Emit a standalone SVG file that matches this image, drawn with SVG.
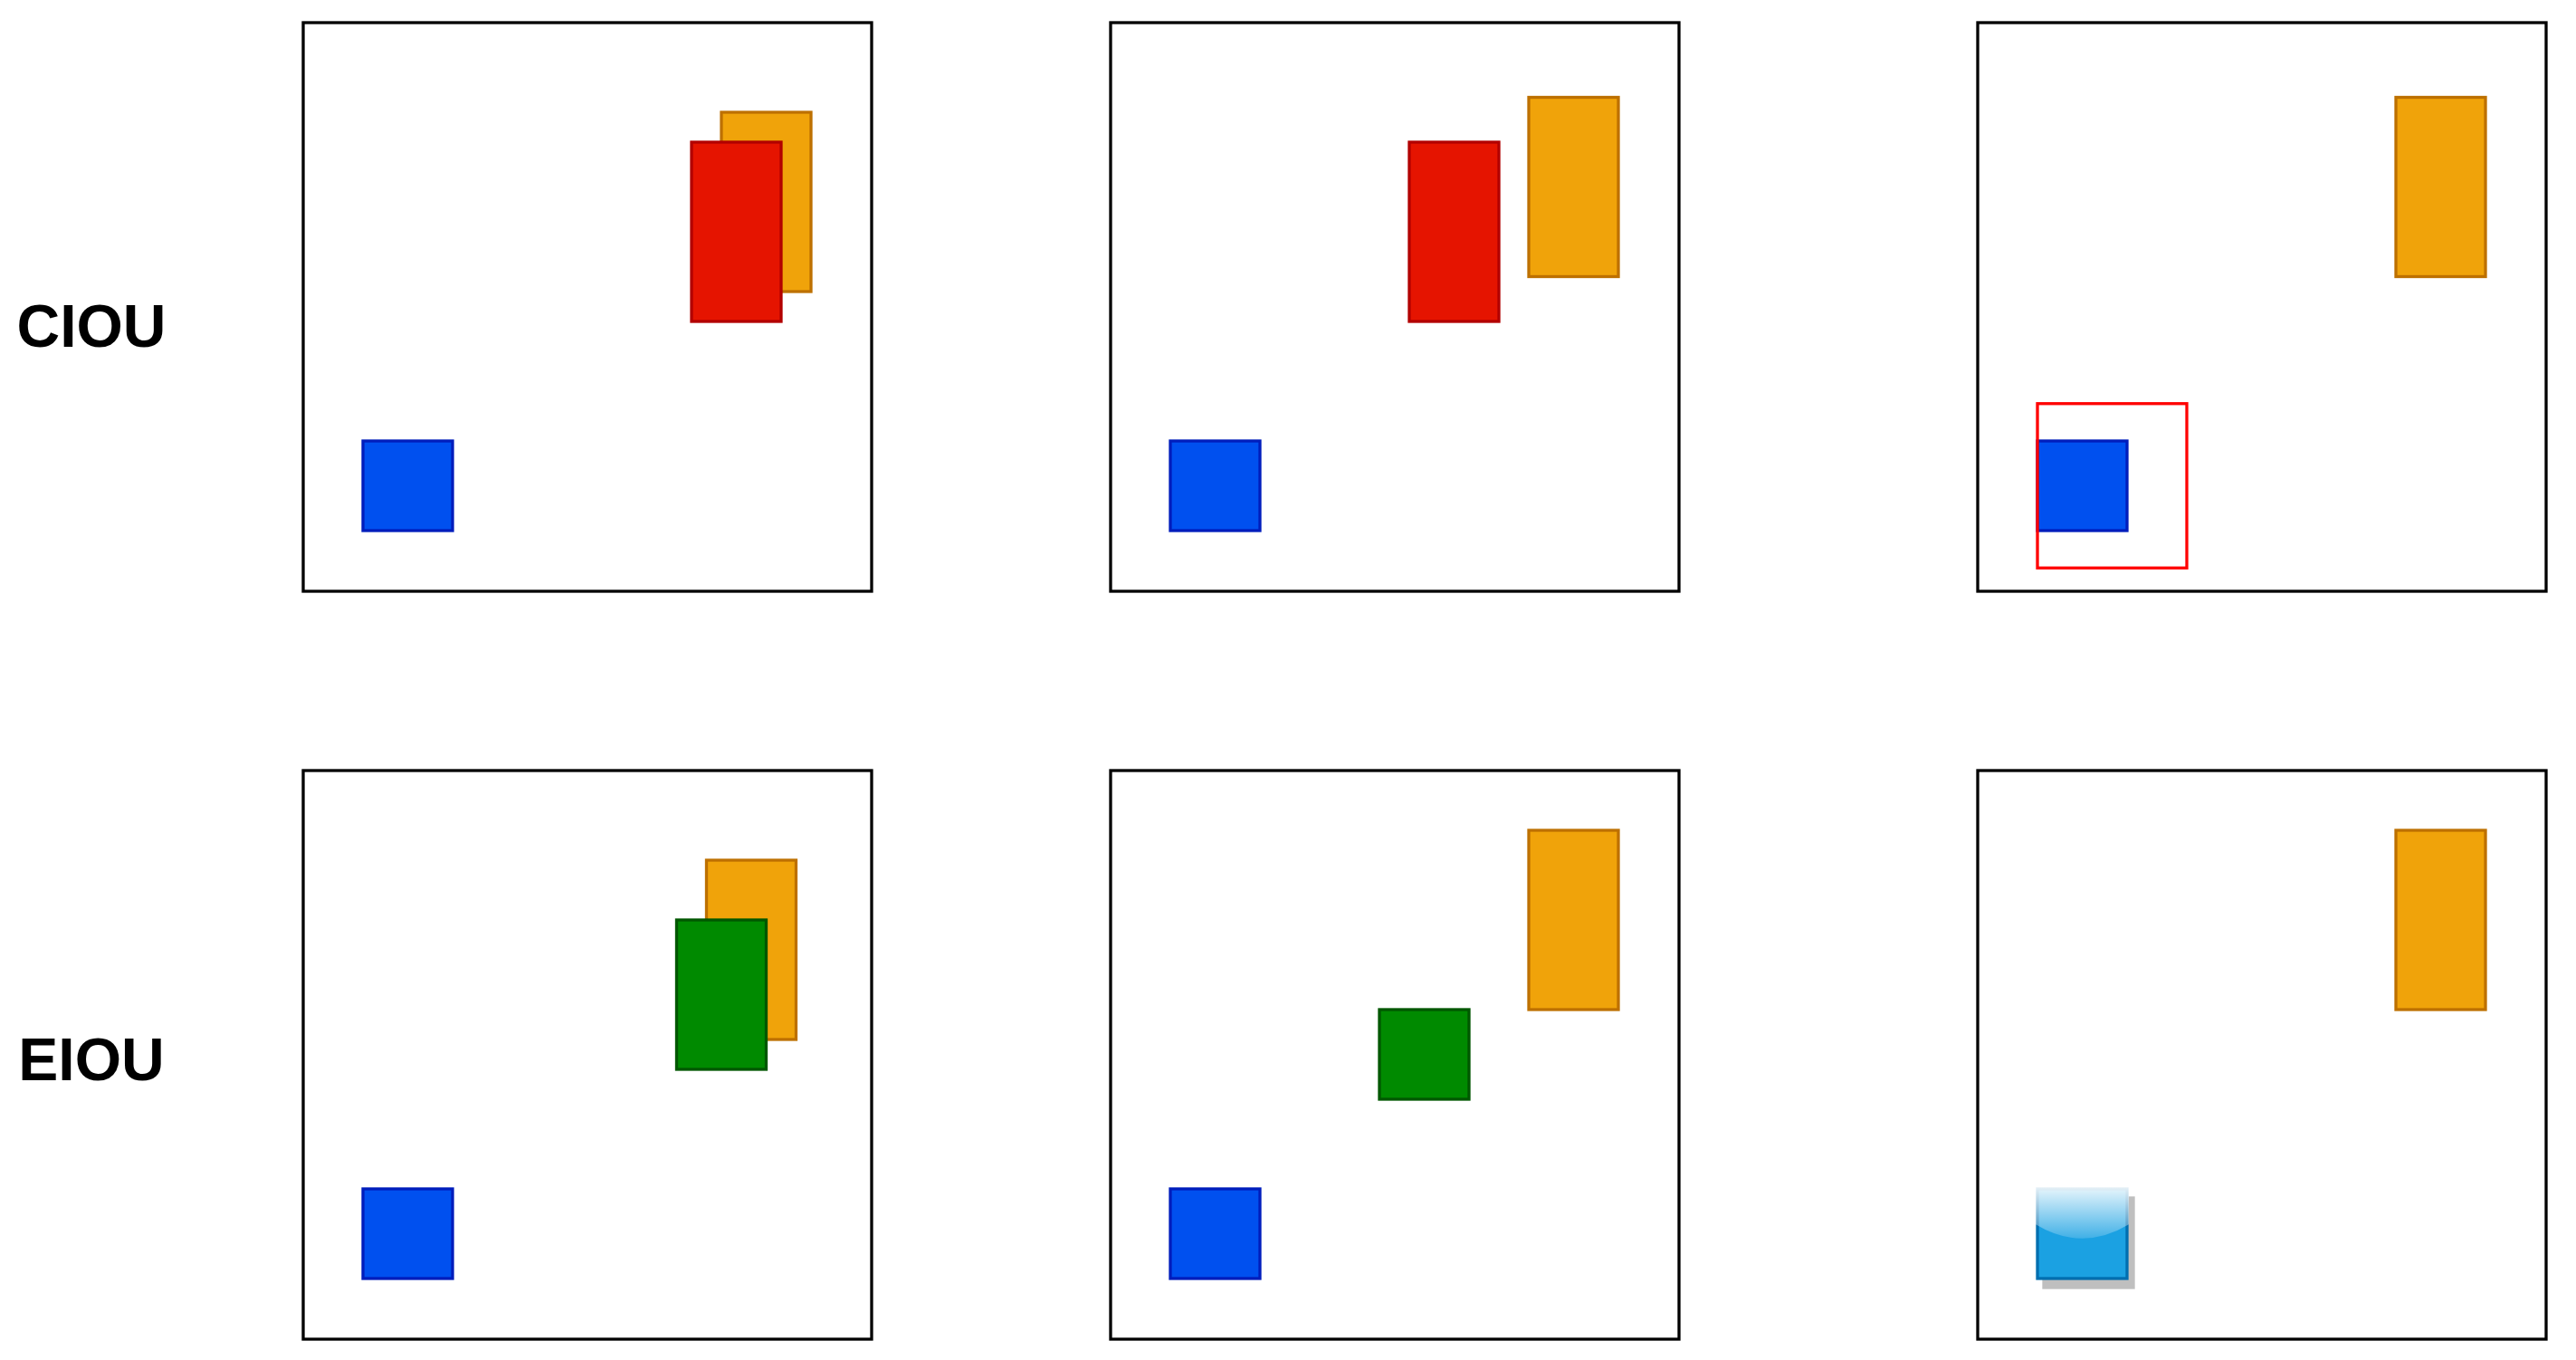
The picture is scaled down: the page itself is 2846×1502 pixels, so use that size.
<svg xmlns="http://www.w3.org/2000/svg" width="2846" height="1502" viewBox="0 0 2846 1502">
  <style>
    .frame{fill:#FFFFFF;stroke:#000000;stroke-width:3.3}
    .orange{fill:#F0A30A;stroke:#BD7000;stroke-width:3.3}
    .red{fill:#E51400;stroke:#B20000;stroke-width:3.3}
    .blue{fill:#0050EF;stroke:#001DBC;stroke-width:3.3}
    .green{fill:#008A00;stroke:#005700;stroke-width:3.3}
    .outline{fill:none;stroke:#FF0000;stroke-width:3.3}
    .label{font-family:"Liberation Sans",Arial,sans-serif;font-weight:bold;font-size:66px;fill:#000000;text-anchor:middle}
  </style>
  <defs>
    <linearGradient id="glass" x1="0" y1="1311" x2="0" y2="1372.8" gradientUnits="userSpaceOnUse">
      <stop offset="0" stop-color="#FFFFFF" stop-opacity="0.9"/>
      <stop offset="1" stop-color="#FFFFFF" stop-opacity="0.1"/>
    </linearGradient>
  </defs>
  <rect width="2846" height="1502" fill="#FFFFFF"/>

  <g id="label-ciou"><text class="label" x="101" y="383">CIOU</text></g>
  <g id="label-eiou"><text class="label" x="101" y="1193">EIOU</text></g>

  <g id="panel-r1c1">
    <rect class="frame" x="335" y="25" width="628" height="628"/>
    <rect class="orange" x="797" y="124" width="99" height="198"/>
    <rect class="red" x="764" y="157" width="99" height="198"/>
    <rect class="blue" x="401" y="487" width="99" height="99"/>
  </g>
  <g id="panel-r1c2">
    <rect class="frame" x="1227" y="25" width="628" height="628"/>
    <rect class="orange" x="1689" y="107.5" width="99" height="198"/>
    <rect class="red" x="1557" y="157" width="99" height="198"/>
    <rect class="blue" x="1293" y="487" width="99" height="99"/>
  </g>
  <g id="panel-r1c3">
    <rect class="frame" x="2185" y="25" width="628" height="628"/>
    <rect class="orange" x="2647" y="107.5" width="99" height="198"/>
    <rect class="blue" x="2251" y="487" width="99" height="99"/>
    <rect class="outline" x="2251" y="445.75" width="165" height="181.5"/>
  </g>

  <g id="panel-r2c1">
    <rect class="frame" x="335" y="851" width="628" height="628"/>
    <rect class="orange" x="780.5" y="950" width="99" height="198"/>
    <rect class="green" x="747.5" y="1016" width="99" height="165"/>
    <rect class="blue" x="401" y="1313" width="99" height="99"/>
  </g>
  <g id="panel-r2c2">
    <rect class="frame" x="1227" y="851" width="628" height="628"/>
    <rect class="orange" x="1689" y="917" width="99" height="198"/>
    <rect class="green" x="1524" y="1115" width="99" height="99"/>
    <rect class="blue" x="1293" y="1313" width="99" height="99"/>
  </g>
  <g id="panel-r2c3">
    <rect class="frame" x="2185" y="851" width="628" height="628"/>
    <rect class="orange" x="2647" y="917" width="99" height="198"/>
    <rect x="2258" y="1323" width="99" height="99" fill="#BFBFBF" stroke="#BFBFBF" stroke-width="3.3"/>
    <rect x="2251" y="1313" width="99" height="99" fill="#1BA1E2" stroke="#006EAF" stroke-width="3.3"/>
    <path d="M2249,1311 L2249,1352.2 Q2300.5,1383.1 2352,1352.2 L2352,1311 Z" fill="url(#glass)"/>
  </g>
</svg>
